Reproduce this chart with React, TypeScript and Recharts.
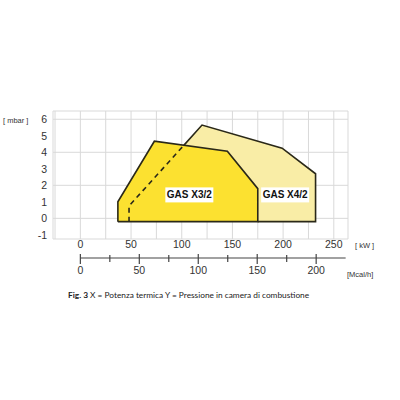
import React from 'react';
import { ComposedChart, LineChart, Area, Line, Scatter, XAxis, YAxis, CartesianGrid, ReferenceDot } from 'recharts';

const kwTicks = [-25, 0, 25, 50, 75, 100, 125, 150, 175, 200, 225, 250];
const mbarTicks = [-1, 0, 1, 2, 3, 4, 5, 6];
const mcalLabels = [0, 50, 100, 150, 200];

// GAS X3/2 working field (kW, mbar)
const x3Area = [
  { kw: 37, mbar: -0.2 },
  { kw: 37, mbar: 1 },
  { kw: 73, mbar: 4.67 },
  { kw: 145, mbar: 4.06 },
  { kw: 175, mbar: 1.8 },
  { kw: 175, mbar: -0.2 },
];
const x3Outline = [...x3Area, { kw: 37, mbar: -0.2 }];

// GAS X4/2 working field
const x4Area = [
  { kw: 48, mbar: -0.2 },
  { kw: 48, mbar: 0.75 },
  { kw: 120, mbar: 5.65 },
  { kw: 199, mbar: 4.25 },
  { kw: 232, mbar: 2.7 },
  { kw: 232, mbar: -0.2 },
];
// visible part of the X4/2 border (the rest hides behind X3/2)
const x4Outline = [
  { kw: 102, mbar: 4.42 },
  { kw: 120, mbar: 5.65 },
  { kw: 199, mbar: 4.25 },
  { kw: 232, mbar: 2.7 },
  { kw: 232, mbar: -0.2 },
  { kw: 175, mbar: -0.2 },
];
const x4Dashed = [
  { kw: 48, mbar: -0.2 },
  { kw: 48, mbar: 0.75 },
  { kw: 102, mbar: 4.42 },
];

const fieldLabels = [
  { kw: 107.5, mbar: 1.42, text: 'GAS X3/2' },
  { kw: 202, mbar: 1.42, text: 'GAS X4/2' },
];

// second scale in Mcal/h
const mcalLine = [
  { mcal: 0, y: 0 },
  { mcal: 225, y: 0 },
];
const mcalMarks = [
  { mcal: 0, y: 0, major: true },
  { mcal: 25, y: 0, major: false },
  { mcal: 50, y: 0, major: true },
  { mcal: 75, y: 0, major: false },
  { mcal: 100, y: 0, major: true },
  { mcal: 125, y: 0, major: false },
  { mcal: 150, y: 0, major: true },
  { mcal: 175, y: 0, major: false },
  { mcal: 200, y: 0, major: true },
];

const FONT = '"Liberation Sans", Arial, Helvetica, sans-serif';
const OUTLINE = '#2a2818';

const FieldLabel = (props: any) => {
  const { cx, cy, text } = props;
  return (
    <g>
      <rect x={cx - 24} y={cy - 7.5} width={48} height={15} fill="#fff" />
      <text x={cx} y={cy + 3.5} textAnchor="middle" fontFamily={FONT} fontWeight="bold" fontSize={10} fill="#111">
        {text}
      </text>
    </g>
  );
};

const TickMark = (props: any) => {
  const { cx, cy, payload } = props;
  const up = payload.major ? 4 : 3;
  const down = payload.major ? 6 : 4;
  return <line x1={cx} x2={cx} y1={cy - up} y2={cy + down} stroke="#444" strokeWidth={1.2} />;
};

export default function App() {
  return (
    <div style={{ position: 'absolute', left: 0, top: 0, width: 400, height: 400, background: '#fff', fontFamily: FONT }}>
      <div style={{ position: 'absolute', left: 0, top: 0 }}>
        <ComposedChart width={400} height={256} margin={{ top: 111, right: 52, bottom: 5, left: 0 }}>
          <CartesianGrid stroke="#d9d9d9" strokeWidth={1} />
          <XAxis
            type="number"
            dataKey="kw"
            domain={[-27, 264]}
            ticks={kwTicks}
            tickFormatter={(v: number) => (v >= 0 && v % 50 === 0 ? String(v) : '')}
            axisLine={false}
            tickLine={false}
            tickSize={2}
            tickMargin={0}
            height={12}
            tick={{ fontSize: 10.5, fill: '#333', fontFamily: FONT }}
            label={{ value: '[ kW ]', position: 'right', offset: 7, fontSize: 7.5, fill: '#333', fontFamily: FONT }}
          />
          <YAxis
            type="number"
            dataKey="mbar"
            domain={[-1.25, 6.5]}
            ticks={mbarTicks}
            axisLine={false}
            tickLine={false}
            tickSize={4}
            tickMargin={2}
            width={53}
            tick={{ fontSize: 10.5, fill: '#333', fontFamily: FONT }}
            label={{ value: '[ mbar ]', position: 'insideTopLeft', offset: 3, dy: 4, fontSize: 7.5, fill: '#333', fontFamily: FONT }}
          />
          <Area data={x4Area} dataKey="mbar" type="linear" baseValue={-0.2} fill="#f9eda6" fillOpacity={1} stroke="none" isAnimationActive={false} />
          <Area data={x3Area} dataKey="mbar" type="linear" baseValue={-0.2} fill="#fce130" fillOpacity={1} stroke="none" isAnimationActive={false} />
          <Line data={x4Outline} dataKey="mbar" type="linear" stroke={OUTLINE} strokeWidth={1.6} dot={false} isAnimationActive={false} />
          <Line data={x3Outline} dataKey="mbar" type="linear" stroke={OUTLINE} strokeWidth={1.6} dot={false} isAnimationActive={false} />
          <Line data={x4Dashed} dataKey="mbar" type="linear" stroke={OUTLINE} strokeWidth={1.6} strokeDasharray="5 4" dot={false} isAnimationActive={false} />
          {fieldLabels.map((l) => (
            <ReferenceDot key={l.text} x={l.kw} y={l.mbar} r={0} shape={(p: any) => <FieldLabel {...p} text={l.text} />} />
          ))}
        </ComposedChart>
      </div>
      <div style={{ position: 'absolute', left: 0, top: 240 }}>
        <LineChart width={400} height={50} margin={{ top: 12, right: 52, bottom: 10, left: 53 }}>
          <XAxis
            type="number"
            dataKey="mcal"
            domain={[-23.2, 227]}
            ticks={mcalLabels}
            axisLine={false}
            tickLine={false}
            tickSize={3}
            tickMargin={0}
            height={16}
            tick={{ fontSize: 10.5, fill: '#333', fontFamily: FONT }}
            label={{ value: '[Mcal/h]', position: 'right', offset: -1, dy: 2, fontSize: 7.5, fill: '#333', fontFamily: FONT }}
          />
          <YAxis hide type="number" dataKey="y" domain={[-1, 1]} />
          <Line data={mcalLine} dataKey="y" type="linear" stroke="#444" strokeWidth={1.2} dot={false} isAnimationActive={false} />
          <Scatter data={mcalMarks} dataKey="y" shape={TickMark} isAnimationActive={false} />
        </LineChart>
      </div>
      <div style={{ position: 'absolute', left: 68, top: 290, fontSize: 8.3, color: '#222', fontFamily: 'Lato, "Open Sans", sans-serif', whiteSpace: 'nowrap' }}>
        <b>Fig. 3</b> X = Potenza termica Y = Pressione in camera di combustione
      </div>
    </div>
  );
}
